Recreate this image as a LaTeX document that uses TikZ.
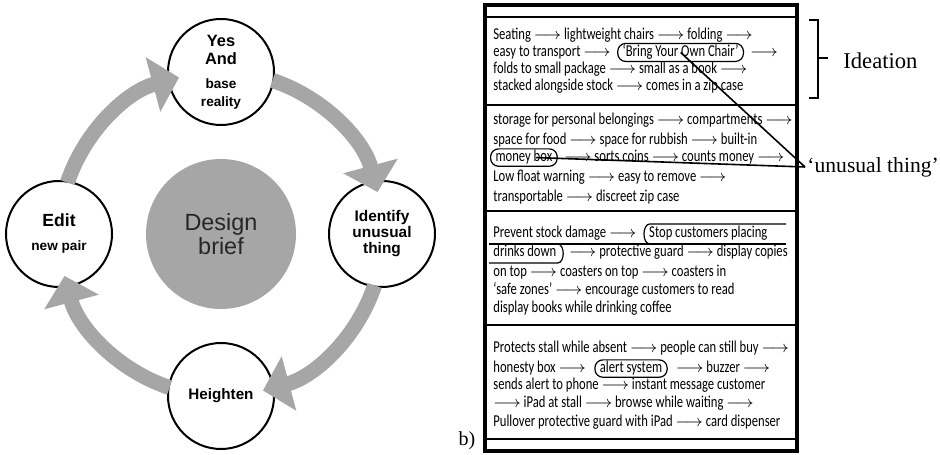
\documentclass[tikz,border=0pt]{standalone}
\usepackage{fontspec}
\newfontfamily\arialfont{Liberation Sans}
\newfontfamily\timesfont{Liberation Serif}
\newfontfamily\handfont[FakeStretch=0.76]{Carlito}
\usepackage{tikz}
\usetikzlibrary{arrows.meta, positioning, calc}
\definecolor{ringgray}{HTML}{A6A6A6}
\newcommand{\thento}{{\fontsize{8}{9}\selectfont\ensuremath{\longrightarrow}}}
\newcommand{\subsize}{\fontsize{6.8}{7.5}\selectfont}

\begin{document}
\begin{tikzpicture}[x=0.5pt, y=0.5pt,
  stage/.style={circle, draw, line width=1pt, fill=white, minimum size=53pt, inner sep=0pt, align=center},
  hubdisc/.style={circle, fill=ringgray, minimum size=75pt, inner sep=0pt, align=center, text=black!85},
  ringarrow/.style={draw=ringgray, line width=7.5pt, -{Triangle[width=27.5pt, length=13.5pt]}},
  hand/.style={font=\handfont\fontsize{8.3}{9}\selectfont, inner sep=0pt, anchor=base west},
  hoval/.style={draw, rounded corners=4pt, inner xsep=2.5pt, inner ysep=0.8pt, line width=0.6pt},
  sepline/.style={line width=0.8pt},
  tag/.style={font=\timesfont\fontsize{11.3}{13}\selectfont, inner sep=0pt}
]
\useasboundingbox (0,0) rectangle (940,454);

% left panel: the cycle round the design brief
\begin{scope}
\node[hubdisc, font=\arialfont\fontsize{11.7}{12}\selectfont] (hub) at (221,220) {Design\\brief};
\node[stage, font=\arialfont\bfseries\fontsize{8.2}{9}\selectfont] (yes) at (221,382) {Yes\\And\\[3pt]\subsize base\\\subsize reality};
\node[stage, font=\arialfont\bfseries\fontsize{7.7}{8}\selectfont] (ident) at (382,220) {Identify\\unusual\\thing};
\node[stage, font=\arialfont\bfseries\fontsize{7.6}{9}\selectfont] (heighten) at (221,58) {Heighten};
\node[stage, font=\arialfont\bfseries\fontsize{8.8}{10}\selectfont] (edit) at (59,220) {Edit\\[2pt]\subsize new pair};
% thick grey arrows, tips lying over the next circle
\draw[ringarrow] ([shift={(161.5:81pt)}]hub.center) arc[start angle=161.5, end angle=105, radius=81pt];
\draw[ringarrow] ([shift={(71.5:81pt)}]hub.center) arc[start angle=71.5, end angle=15, radius=81pt];
\draw[ringarrow] ([shift={(-18.5:81pt)}]hub.center) arc[start angle=-18.5, end angle=-75, radius=81pt];
\draw[ringarrow] ([shift={(-108.5:81pt)}]hub.center) arc[start angle=-108.5, end angle=-165, radius=81pt];
\end{scope}

% right panel: the ideation sheet
\begin{scope}
\node[tag, font=\timesfont\fontsize{10}{12}\selectfont] (bmark) at (467,13) {b)};
\draw[line width=1.6pt] (485,3) rectangle (797,449);
\foreach \yy in {437,349,243,129,15} {
  \draw[sepline] (486,\yy) -- (796,\yy);
}
\coordinate (inL) at (489,0);
\coordinate (inR) at (786,0);
% seating
\node[hand] (s1a) at (493,414) {Seating \thento{} lightweight chairs \thento{} folding \thento};
\node[hand] (s1b) at (493,397) {easy to transport \thento};
\node[hand, hoval, base right=3pt of s1b] (byoc) {‘Bring Your Own Chair’};
\node[hand, base right=3pt of byoc] (s1b2) {\thento};
\node[hand] (s1c) at (493,380) {folds to small package \thento{} small as a book \thento};
\node[hand] (s1d) at (493,363) {stacked alongside stock \thento{} comes in a zip case};
% storage
\node[hand] (s2a) at (493,329) {storage for personal belongings \thento{} compartments \thento};
\node[hand] (s2b) at (493,309) {space for food \thento{} space for rubbish \thento{} built-in};
\node[hand, hoval] (mbox) at (490,292) {money box};
\node[hand, base right=3pt of mbox] (s2c) {\thento{} sorts coins \thento{} counts money \thento};
\node[hand] (s2d) at (493,272) {Low float warning \thento{} easy to remove \thento};
\node[hand] (s2e) at (493,252) {transportable \thento{} discreet zip case};
% stock damage
\node[hand] (s3a) at (493,216) {Prevent stock damage \thento};
\node[hand, base right=6pt of s3a] (stop1) {Stop customers placing};
\node[hand] (stop2) at (493,197) {drinks down};
\node[hand, base right=6pt of stop2] (s3b) {\thento{} protective guard \thento{} display copies};
\node[hand] (s3c) at (493,177) {on top \thento{} coasters on top \thento{} coasters in};
\node[hand] (s3d) at (493,159) {‘safe zones’ \thento{} encourage customers to read};
\node[hand] (s3e) at (493,141) {display books while drinking coffee};
\coordinate (midS) at ($(stop2.base)+(0,13)$);
\draw[line width=0.6pt] ($(inR |- stop1.base)+(0,14)$) -- ($(stop1.base west)+(1,14)$) to[out=180, in=180] ($(stop1.base west)+(1,-6)$);
\draw[line width=0.6pt] (inL |- midS) -- (inR |- midS);
\draw[line width=0.6pt] ($(inL |- stop2.base)+(0,-6)$) -- ($(stop2.base east)+(1,-6)$) to[out=0, in=0] ($(stop2.base east)+(1,13)$);
% unattended stall
\node[hand] (s4a) at (493,101) {Protects stall while absent \thento{} people can still buy \thento};
\node[hand] (s4b) at (493,81) {honesty box \thento};
\node[hand, hoval, base right=4pt of s4b] (alert) {alert system};
\node[hand, base right=4pt of alert] (s4b2) {\thento{} buzzer \thento};
\node[hand] (s4c) at (493,64) {sends alert to phone \thento{} instant message customer};
\node[hand] (s4d) at (493,46) {\thento{} iPad at stall \thento{} browse while waiting \thento};
\node[hand] (s4e) at (493,27) {Pullover protective guard with iPad \thento{} card dispenser};
% side labels
\draw[line width=0.8pt] (809,434) -- (818,434) -- (818,356) -- (809,356);
\draw[line width=0.8pt] (818,396) -- (828,396);
\node[tag, anchor=west] (idea) at (843,393) {Ideation};
\node[tag, anchor=west, inner sep=1pt, font=\timesfont\fontsize{10.8}{13}\selectfont] (unusual) at (805,287) {‘unusual thing’};
\draw[line width=0.8pt] (unusual.west) -- (byoc.center);
\draw[line width=0.8pt] (unusual.west) -- ([xshift=6pt]mbox.center);
\end{scope}
\end{tikzpicture}
\end{document}
